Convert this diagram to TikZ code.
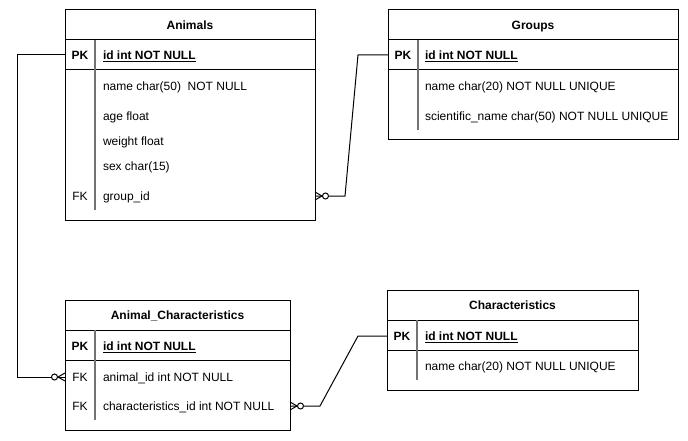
\documentclass[tikz,border=0pt]{standalone}
\usepackage{fontspec}
\setmainfont{Liberation Sans}

\begin{document}
\begin{tikzpicture}[x=1pt,y=-1pt,line width=1pt,
    every node/.style={inner sep=0pt,outer sep=0pt,text height=8.6pt,text depth=0pt,font=\fontsize{12}{14}\selectfont},
    entity/.style={draw,anchor=north west},
    head/.style={font=\fontsize{12}{14}\selectfont\bfseries},
    key/.style={},
    field/.style={anchor=west},
    pkfield/.style={anchor=west,font=\fontsize{12}{14}\selectfont\bfseries},
    colsep/.style={draw=black!55,line width=1.5pt},
    crow/.pic={\draw (0,-4) -- (7,0) -- (0,4); \draw[fill=white] (10.5,0) circle[radius=3pt];}]
  \useasboundingbox (0,0) rectangle (688,441);

  \node[entity,minimum width=250pt,minimum height=210pt] (animals) at (65,10) {};
  \node[entity,minimum width=290pt,minimum height=130pt] (groups) at (388,10) {};
  \node[entity,minimum width=225pt,minimum height=130pt] (animalchar) at (65,300) {};
  \node[entity,minimum width=251pt,minimum height=100pt] (chars) at (387,290) {};

  \foreach \l/\r/\a/\b in {65/315/40/70,388/678/40/70,65/290/330/360,387/638/320/350}
    \draw (\l,\a) -- (\r,\a) (\l,\b) -- (\r,\b);
  \draw[colsep] (95,40) -- (95,210);
  \draw[colsep] (418,40) -- (418,130);
  \draw[colsep] (95,330) -- (95,420);
  \draw[colsep] (417,320) -- (417,380);

  \node[head] (animalsH) at (190,25) {Animals};
  \node[head] (groupsH) at (533,25) {Groups};
  \node[head] (animalcharH) at (177.5,315) {Animal\_Characteristics};
  \node[head] (charsH) at (512.5,305) {Characteristics};

  % keys
  \node[head] (animalsPK) at (80,55) {PK};
  \node[key] (animalsFK) at (80,196) {FK};
  \node[head] (groupsPK) at (403,55) {PK};
  \node[head] (animalcharPK) at (80,346) {PK};
  \node[key] (animalcharFK1) at (80,377) {FK};
  \node[key] (animalcharFK2) at (80,406) {FK};
  \node[head] (charsPK) at (402,336) {PK};

  % fields
  \node[pkfield] (animals1) at (103,55) {\underline{id int NOT NULL}};
  \foreach \t/\y [count=\i from 2] in {name char(50)\ \ NOT NULL/86,age float/116,weight float/141,sex char(15)/166,group\_id/196}
    \node[field] (animals\i) at (103,\y) {\t};
  \node[pkfield] (groups1) at (425,55) {\underline{id int NOT NULL}};
  \node[field] (groups2) at (425,86) {name char(20) NOT NULL UNIQUE};
  \node[field] (groups3) at (425,116) {scientific\_name char(50) NOT NULL UNIQUE};
  \node[pkfield] (animalchar1) at (103,346) {\underline{id int NOT NULL}};
  \node[field] (animalchar2) at (103,377) {animal\_id int NOT NULL};
  \node[field] (animalchar3) at (103,406) {characteristics\_id int NOT NULL};
  \node[pkfield] (chars1) at (425,336) {\underline{id int NOT NULL}};
  \node[field] (chars2) at (425,366) {name char(20) NOT NULL UNIQUE};

  \draw (animals.west |- animals1) -- ++(-48,0) |- (animalchar.west |- animalchar2);
  \pic[rotate=180] at (animalchar.west |- animalchar2) {crow};
  \draw (animals.east |- animals6) -- ++(30,0) -- ([xshift=-30pt]groups.west |- groups1) -- (groups.west |- groups1);
  \pic at (animals.east |- animals6) {crow};
  \draw (animalchar.east |- animalchar3) -- ++(30,0) -- ([xshift=-29pt]chars.west |- chars1) -- (chars.west |- chars1);
  \pic at (animalchar.east |- animalchar3) {crow};
\end{tikzpicture}
\end{document}
